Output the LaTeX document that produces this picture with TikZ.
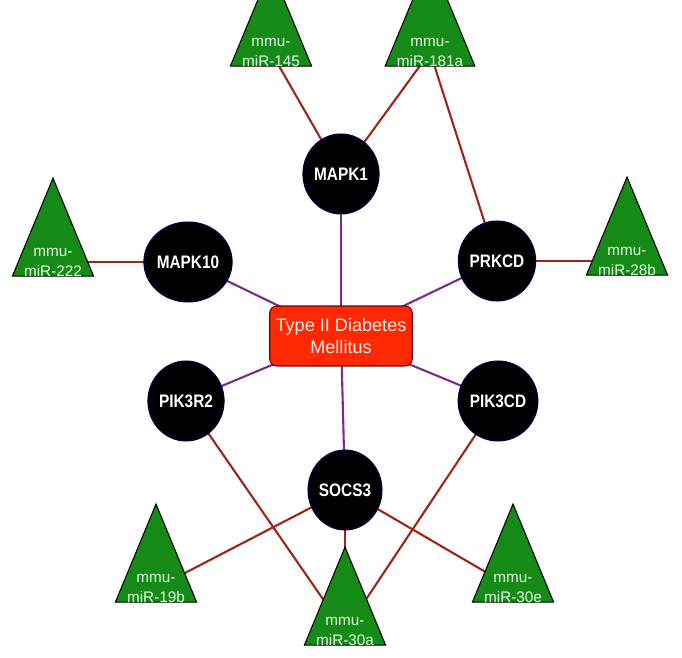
\documentclass[tikz,border=0pt]{standalone}
\usepackage{fontspec}
\setmainfont{Liberation Sans}
\newfontfamily\genefont[FakeStretch=0.85]{Liberation Sans}
\usepackage{xcolor}
\usepackage{tikz}
\usetikzlibrary{shapes.geometric,backgrounds}

\definecolor{mirgreen}{RGB}{22,138,22}
\definecolor{dxred}{RGB}{255,40,0}
\definecolor{hitred}{RGB}{158,38,22}
\definecolor{assocpurple}{RGB}{126,42,138}

\begin{document}
\begin{tikzpicture}[
    x=0.02cm, y=-0.02cm,
    gene/.style={ellipse, draw=blue!30!black, line width=0.6pt, fill=black, minimum width=1.48cm, minimum height=1.6cm, inner sep=0pt, text=white, font=\genefont\bfseries\fontsize{10.3}{12}\selectfont},
    mir/.style={isosceles triangle, isosceles triangle stretches, shape border rotate=90, draw=black, line width=0.6pt, fill=mirgreen, minimum width=1.34cm, minimum height=1.92cm, inner sep=0pt, align=center, text=white!88!green, font=\fontsize{8.7}{11.4}\selectfont},
    disease/.style={rectangle, rounded corners=4pt, draw=red!45!black, line width=0.6pt, fill=dxred, minimum width=2.74cm, minimum height=1.2cm, align=center, text=white!92!red, font=\fontsize{10.3}{12.5}\selectfont},
    hit/.style={draw=hitred, line width=1.2pt},
    assoc/.style={draw=assocpurple, line width=1.2pt}
]
\useasboundingbox (0,0) rectangle (682,658);

% disease and genes
\node[disease] (t2dm) at (341,336) {Type II Diabetes\\Mellitus};
\node[gene] (mapk1) at (341,174) {MAPK1};
\node[gene] (mapk10) at (188,262) {MAPK10};
\node[gene] (prkcd) at (497,261) {PRKCD};
\node[gene] (pik3r2) at (186,401) {PIK3R2};
\node[gene] (pik3cd) at (498,401) {PIK3CD};
\node[gene] (socs3) at (345,490) {SOCS3};

% microRNAs
\node[mir] (mir145) at (271,52) {mmu-\\miR-145};
\node[mir] (mir181a) at (430,52) {mmu-\\miR-181a};
\node[mir] (mir222) at (53,262) {mmu-\\miR-222};
\node[mir] (mir28b) at (627,261) {mmu-\\miR-28b};
\node[mir] (mir19b) at (156,588) {mmu-\\miR-19b};
\node[mir] (mir30a) at (345,631) {mmu-\\miR-30a};
\node[mir] (mir30e) at (513,588) {mmu-\\miR-30e};

\begin{scope}[on background layer]
\draw[assoc] (t2dm.center) -- (mapk1.center);
\draw[assoc] (t2dm.center) -- (mapk10.center);
\draw[assoc] (t2dm.center) -- (prkcd.center);
\draw[assoc] (t2dm.center) -- (pik3r2.center);
\draw[assoc] (t2dm.center) -- (pik3cd.center);
\draw[assoc] (t2dm.center) -- (socs3.center);

\draw[hit] (mir145.center) -- (mapk1.center);
\draw[hit] (mir181a.center) -- (mapk1.center);
\draw[hit] (mir181a.center) -- (prkcd.center);
\draw[hit] (mir222.center) -- (mapk10.center);
\draw[hit] (mir28b.center) -- (prkcd.center);
\draw[hit] (mir19b.center) -- (socs3.center);
\draw[hit] (mir30a.center) -- (socs3.center);
\draw[hit] (mir30e.center) -- (socs3.center);
\draw[hit] (mir30a.center) -- (pik3r2.center);
\draw[hit] (mir30a.center) -- (pik3cd.center);
\end{scope}
\end{tikzpicture}
\end{document}
